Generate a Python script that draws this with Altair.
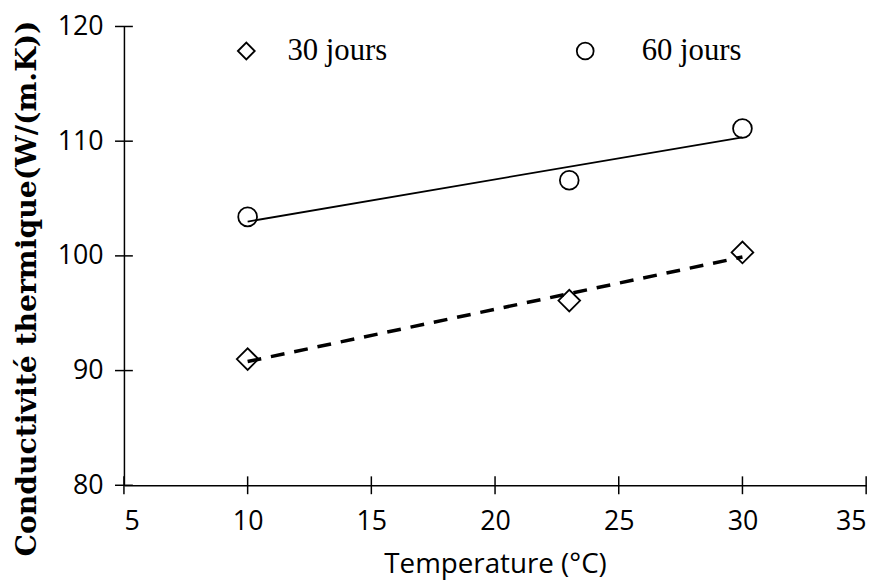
import altair as alt
import pandas as pd

# ---- data ----
temperature = [10, 23, 30]
cond_30_jours = [91.0, 96.1, 100.3]
cond_60_jours = [103.4, 106.6, 111.1]
series = ["30 jours", "60 jours"]
x_tick_values = [5, 10, 15, 20, 25, 30, 35]
y_tick_values = [80, 90, 100, 110, 120]

df = pd.DataFrame({
    "T": temperature * 2,
    "k": cond_30_jours + cond_60_jours,
    "serie": [series[0]] * len(temperature) + [series[1]] * len(temperature),
})
xticks_df = pd.DataFrame({"T": x_tick_values, "k": [y_tick_values[0]] * len(x_tick_values)})
yticks_df = pd.DataFrame({"T": [x_tick_values[0]] * len(y_tick_values), "k": y_tick_values})

xs = alt.Scale(domain=[5, 35], nice=False, zero=False)
ys = alt.Scale(domain=[80, 120], nice=False, zero=False)

x_axis = alt.Axis(
    values=x_tick_values, title="Temperature (°C)", ticks=False, grid=False,
    domainColor="black", domainWidth=1.5,
    labelFont="Open Sans", labelFontSize=27, labelColor="black", labelPadding=24,
    titleFont="Open Sans", titleFontSize=28, titleFontWeight="normal", titleColor="black",
    titleY=88, titleBaseline="alphabetic",
)
y_axis = alt.Axis(
    values=y_tick_values, title="Conductivité thermique(W/(m.K))", ticks=False, grid=False,
    domainColor="black", domainWidth=1.5,
    labelFont="Open Sans", labelFontSize=27, labelColor="black", labelPadding=21,
    titleFont="DejaVu Serif", titleFontSize=28.5, titleFontWeight="bold", titleColor="black",
    titleAngle=-90, titleX=-89, titleY=264, titleBaseline="alphabetic", titleAlign="center",
)

X = alt.X("T:Q", scale=xs, axis=x_axis)
Y = alt.Y("k:Q", scale=ys, axis=y_axis)

points = alt.Chart(df).mark_point(filled=False, strokeWidth=1.8, color="black", opacity=1).encode(
    x=X, y=Y,
    shape=alt.Shape("serie:N", scale=alt.Scale(domain=series, range=["diamond", "circle"]),
                    legend=alt.Legend(
                        title=None, orient="none", direction="horizontal",
                        legendX=108, legendY=9,
                        labelFont="Liberation Serif", labelFontSize=31, labelColor="black",
                        labelOffset=26, columnPadding=184, symbolSize=289,
                        symbolStrokeWidth=1.8, symbolStrokeColor="black",
                        symbolFillColor="transparent",
                        labelExpr="datum.value == '60 jours' ? '\u200b\u2007' + datum.value : datum.value",
                    )),
    size=alt.condition(alt.datum.serie == series[0], alt.value(480), alt.value(360)),
)

line30 = alt.Chart(df).transform_filter(alt.datum.serie == series[0]).transform_regression(
    "T", "k", extent=[10, 30]
).mark_line(color="black", strokeWidth=3.5, strokeDash=[14, 10]).encode(x=X, y=Y)

line60 = alt.Chart(df).transform_filter(alt.datum.serie == series[1]).transform_regression(
    "T", "k", extent=[10, 30]
).mark_line(color="black", strokeWidth=1.8).encode(x=X, y=Y)

xticks = alt.Chart(xticks_df).mark_tick(orient="vertical", size=18, thickness=1.5, color="black", opacity=1).encode(x=X, y=Y)
yticks = alt.Chart(yticks_df).mark_tick(orient="horizontal", size=18, thickness=1.5, color="black", opacity=1).encode(x=X, y=Y)

chart = alt.layer(line30, line60, points, xticks, yticks).properties(
    width=749, height=463,
    autosize=alt.AutoSizeParams(type="none"),
    padding={"left": 117, "top": 16, "right": 17, "bottom": 100},
    background="white",
).configure_view(stroke=None)

chart.save("out.html", embed_options={"renderer": "svg", "actions": False})
